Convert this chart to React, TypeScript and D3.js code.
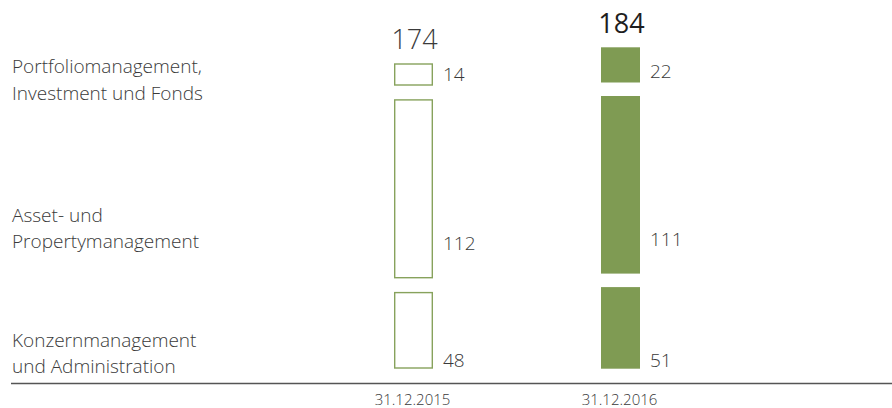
import React from "react";
import * as d3 from "d3";

const categories = [
  "Konzernmanagement und Administration",
  "Asset- und Propertymanagement",
  "Portfoliomanagement, Investment und Fonds",
];
const categoryLines = [
  ["Konzernmanagement", "und Administration"],
  ["Asset- und", "Propertymanagement"],
  ["Portfoliomanagement,", "Investment und Fonds"],
];
const periods = ["31.12.2015", "31.12.2016"];
const values2015 = [48, 112, 14];
const values2016 = [51, 111, 22];
const totals = [174, 184];

const W = 892;
const H = 408;
const BASE = 368.7;
const GAP = 13.5;
const BAR_W = 39;
const GREEN = "#7f9b53";
const TEXT = "#3a3a3a";
const FONT = "'Open Sans', sans-serif";

export default function App() {
  const series = [values2015, values2016];
  const h = d3.scaleLinear().domain([0, 184]).range([0, 294.4]);
  const x = d3.scalePoint<string>().domain(periods).range([413.5, 620.5]);

  // category label baselines (first line) and value label lifts
  const catY = d3.scaleOrdinal<string, number>().domain(categories).range([346.7, 221.7, 73.3]);
  const labelLift = [2, 28, 5];

  const bars = series.map((vals) => {
    let cur = BASE;
    return vals.map((v, ci) => {
      const bottom = cur;
      const top = bottom - h(v);
      cur = top - GAP;
      return { v, ci, top, bottom };
    });
  });

  return (
    <svg
      width={W}
      height={H}
      style={{ position: "absolute", left: 0, top: 0, background: "#fff" }}
      fontFamily={FONT}
    >
      {categories.map((c, ci) => (
        <text key={c} x={12} y={catY(c)} fontSize={19} fontWeight={300} fill={TEXT}>
          {categoryLines[ci].map((l, li) => (
            <tspan key={li} x={12} dy={li === 0 ? 0 : 26.7}>
              {l}
            </tspan>
          ))}
        </text>
      ))}

      {bars.map((segs, si) => {
        const cx = x(periods[si]) as number;
        const filled = si === 1;
        return (
          <g key={si}>
            {segs.map((s) =>
              filled ? (
                <rect key={s.ci} x={cx - BAR_W / 2} y={s.top} width={BAR_W} height={s.bottom - s.top} fill={GREEN} />
              ) : (
                <rect
                  key={s.ci}
                  x={cx - BAR_W / 2 + 0.7}
                  y={s.top + 0.7}
                  width={BAR_W - 1.4}
                  height={s.bottom - s.top - 1.4}
                  fill="none"
                  stroke="#87a25c"
                  strokeWidth={1.4}
                />
              )
            )}
            {segs.map((s) => (
              <text
                key={"l" + s.ci}
                x={cx + BAR_W / 2 + 10}
                y={s.bottom - labelLift[s.ci]}
                fontSize={19}
                fontWeight={300}
                fill={TEXT}
              >
                {s.v}
              </text>
            ))}
            <text
              x={cx + 1}
              y={segs[segs.length - 1].top - 14}
              textAnchor="middle"
              fontSize={27}
              fontWeight={filled ? 400 : 300}
              fill={filled ? "#1e1e1e" : TEXT}
            >
              {totals[si]}
            </text>
            <text x={cx - 1} y={405} textAnchor="middle" fontSize={15} fontWeight={300} fill={TEXT}>
              {periods[si]}
            </text>
          </g>
        );
      })}

      <line x1={11} x2={W} y1={383.5} y2={383.5} stroke="#555" strokeWidth={1.6} />
    </svg>
  );
}
